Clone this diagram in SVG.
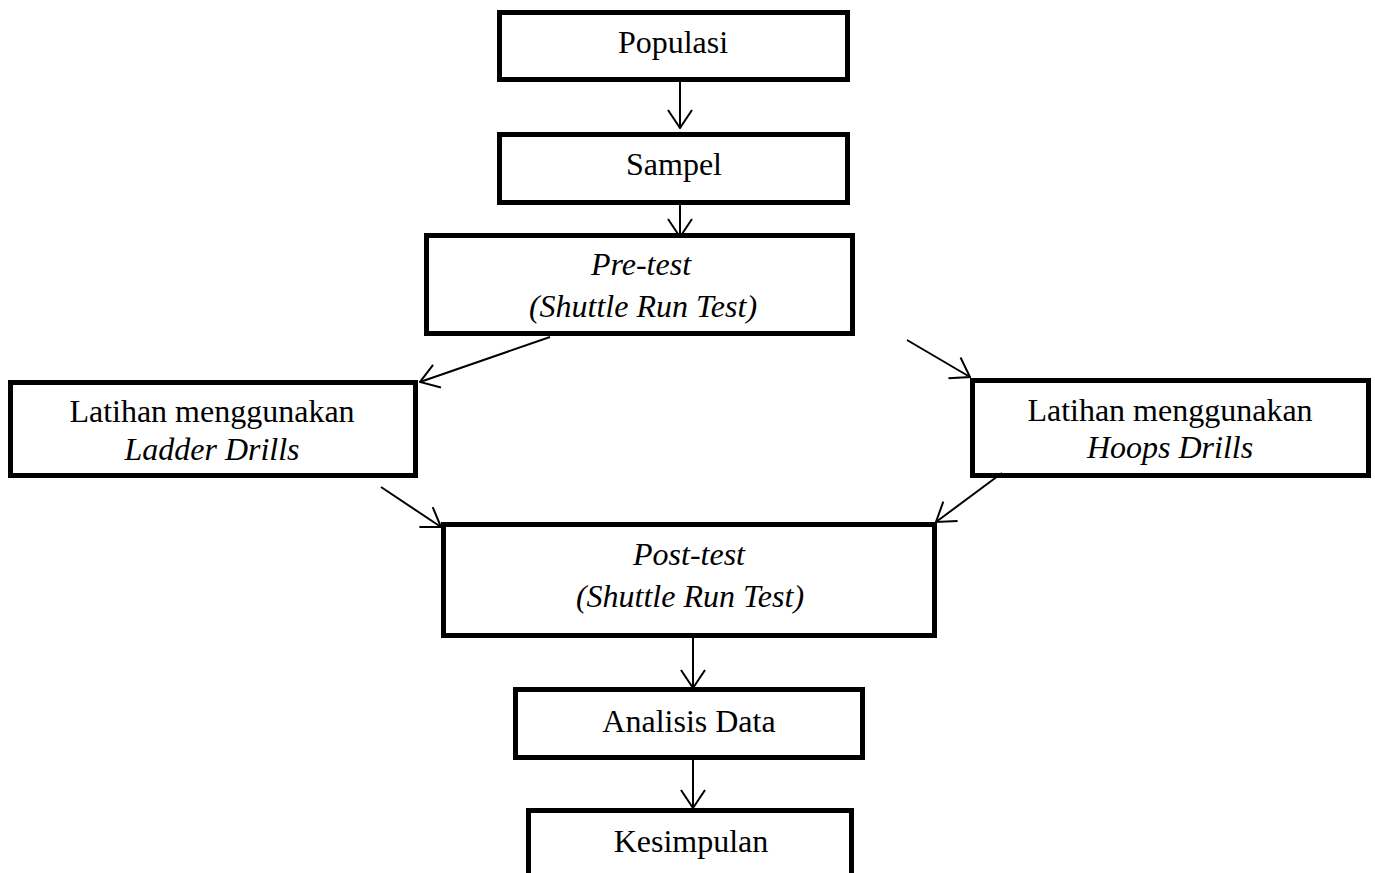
<svg xmlns="http://www.w3.org/2000/svg" width="1375" height="873" viewBox="0 0 1375 873">
<style>
.box{fill:#fff;stroke:#000;stroke-width:5}
.t{font-family:"Liberation Serif","Times New Roman",serif;font-size:32px;fill:#000;text-anchor:middle}
.i{font-style:italic}
.c{stroke:#000;stroke-width:2;fill:none}
</style>
<defs>
<marker id="ah" viewBox="0 0 20 26" refX="19" refY="13" markerWidth="20" markerHeight="26" markerUnits="userSpaceOnUse" orient="auto">
<path d="M1,1 L19,13 L1,25" fill="none" stroke="#000" stroke-width="2"/>
</marker>
</defs>
<rect width="1375" height="873" fill="#fff"/>
<g id="populasi"><rect class="box" x="499.5" y="12.5" width="348" height="67"/><text class="t" x="673" y="53">Populasi</text></g>
<g id="sampel"><rect class="box" x="499.5" y="134.5" width="348" height="68"/><text class="t" x="674" y="175">Sampel</text></g>
<g id="pretest"><rect class="box" x="426.5" y="235.5" width="426" height="98"/><text class="t i" x="641" y="275">Pre-test</text><text class="t i" x="643" y="317">(Shuttle Run Test)</text></g>
<g id="ladder"><rect class="box" x="10.5" y="382.5" width="405" height="93"/><text class="t" x="212" y="422">Latihan menggunakan</text><text class="t i" x="212" y="460">Ladder Drills</text></g>
<g id="hoops"><rect class="box" x="972.5" y="380.5" width="396" height="95"/><text class="t" x="1170" y="421">Latihan menggunakan</text><text class="t i" x="1170" y="458">Hoops Drills</text></g>
<g id="posttest"><rect class="box" x="443.5" y="524.5" width="491" height="111"/><text class="t i" x="689" y="565">Post-test</text><text class="t i" x="690" y="607">(Shuttle Run Test)</text></g>
<g id="analisis"><rect class="box" x="515.5" y="689.5" width="347" height="68"/><text class="t" x="689" y="732">Analisis Data</text></g>
<g id="kesimpulan"><rect class="box" x="528.5" y="810.5" width="323" height="80"/><text class="t" x="691" y="852">Kesimpulan</text></g>
<g id="connectors">
<line class="c" x1="680" y1="82" x2="680" y2="128" marker-end="url(#ah)"/>
<line class="c" x1="680" y1="205" x2="680" y2="237" marker-end="url(#ah)"/>
<line class="c" x1="550" y1="337" x2="420" y2="382" marker-end="url(#ah)"/>
<line class="c" x1="907" y1="340" x2="970" y2="377" marker-end="url(#ah)"/>
<line class="c" x1="381" y1="487" x2="441" y2="527" marker-end="url(#ah)"/>
<line class="c" x1="1002" y1="473" x2="936" y2="522" marker-end="url(#ah)"/>
<line class="c" x1="693" y1="638" x2="693" y2="688" marker-end="url(#ah)"/>
<line class="c" x1="693" y1="760" x2="693" y2="808" marker-end="url(#ah)"/>
</g>
</svg>
